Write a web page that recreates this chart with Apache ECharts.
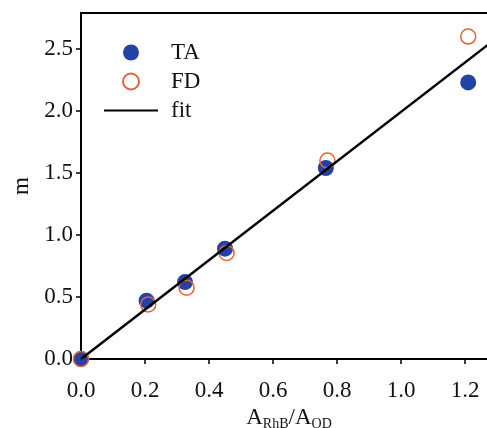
<!DOCTYPE html>
<html>
<head>
<meta charset="utf-8">
<script src="https://cdn.jsdelivr.net/npm/echarts@6/dist/echarts.min.js"></script>
<style>
  html, body { margin: 0; padding: 0; background: #fff; }
  #chart { width: 487px; height: 428px; }
</style>
</head>
<body>
<div id="chart"></div>
<script>
// values
var taX = [0, 0.205, 0.325, 0.45, 0.765, 1.21];
var taY = [0, 0.47, 0.62, 0.89, 1.54, 2.23];
var fdX = [0, 0.21, 0.33, 0.455, 0.77, 1.21];
var fdY = [0, 0.44, 0.575, 0.855, 1.60, 2.60];
var fitX = [0, 1.3];
var fitY = [0, 2.59];
var xTicks = [0, 0.2, 0.4, 0.6, 0.8, 1.0, 1.2];
var yTicks = [0, 0.5, 1.0, 1.5, 2.0, 2.5];

function pairs(xs, ys) {
    return xs.map(function (x, i) { return [x, ys[i]]; });
}

var serif = 'Liberation Serif';
var myChart = echarts.init(document.getElementById('chart'));

var option = {
    backgroundColor: '#fff',
    animation: false,
    grid: {
        left: 81, top: 13, bottom: 69, right: -10,
        outerBoundsMode: 'none',
        show: true, borderColor: '#000', borderWidth: 2
    },
    legend: {
        orient: 'vertical',
        left: 98, top: 36,
        itemWidth: 54, itemHeight: 16, itemGap: 6,
        textStyle: {fontFamily: serif, fontSize: 23, color: '#111', padding: [0, 0, 0, 8]},
        data: ['TA', 'FD', {name: 'fit', itemStyle: {opacity: 0}}]
    },
    xAxis: {
        type: 'value', min: 0, max: 1.3,
        splitLine: {show: false},
        axisLine: {onZero: false, lineStyle: {color: '#000', width: 2}},
        axisTick: {customValues: xTicks, length: 5, lineStyle: {color: '#000', width: 1.5}},
        axisLabel: {
            customValues: xTicks, margin: 20, color: '#111',
            fontFamily: serif, fontSize: 23,
            formatter: function (v) { return v.toFixed(1); }
        },
        name: '{a|A}{s|RhB}{a|/A}{s|OD}',
        nameLocation: 'middle', nameGap: 45,
        nameTextStyle: {
            rich: {
                a: {fontFamily: serif, fontSize: 23, color: '#111'},
                s: {fontFamily: serif, fontSize: 14, color: '#111', verticalAlign: 'bottom', padding: [12, 0, 0, 0]}
            }
        }
    },
    yAxis: {
        type: 'value', min: 0, max: 2.79,
        splitLine: {show: false},
        axisLine: {onZero: false, lineStyle: {color: '#000', width: 2}},
        axisTick: {customValues: yTicks, length: 5, lineStyle: {color: '#000', width: 1.5}},
        axisLabel: {
            customValues: yTicks, margin: 8, color: '#111',
            fontFamily: serif, fontSize: 23,
            formatter: function (v) { return v.toFixed(1); }
        },
        name: 'm', nameLocation: 'middle', nameGap: 48,
        nameTextStyle: {fontFamily: serif, fontSize: 23, color: '#111'}
    },
    series: [{
        name: 'TA', type: 'scatter', symbol: 'circle', symbolSize: 16,
        itemStyle: {color: '#2342a6', opacity: 1},
        data: pairs(taX, taY), z: 3
    }, {
        name: 'FD', type: 'scatter', symbol: 'circle', symbolSize: 15,
        itemStyle: {color: 'rgba(0,0,0,0)', borderColor: '#e4603a', borderWidth: 1.5, opacity: 1},
        data: pairs(fdX, fdY), z: 4
    }, {
        name: 'fit', type: 'line', symbol: 'none',
        lineStyle: {color: '#000', width: 2.5},
        itemStyle: {color: '#000'},
        data: pairs(fitX, fitY), z: 5
    }]
};

myChart.setOption(option);
</script>
</body>
</html>
